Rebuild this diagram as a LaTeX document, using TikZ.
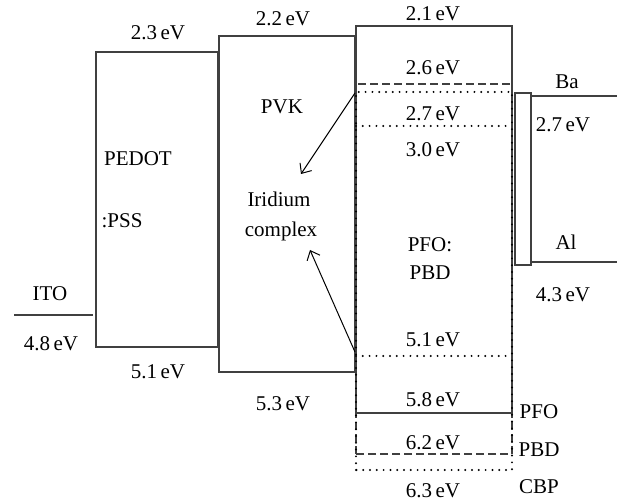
\documentclass[tikz,border=0pt]{standalone}
\usepackage{fontspec}
\setmainfont{Liberation Serif}
\usetikzlibrary{positioning, arrows.meta}
\tikzset{
  lbl/.style={font=\fontsize{10.5}{12}\selectfont, inner sep=1pt},
  band/.style={draw=black!75, line width=0.65pt},
  lumo/.style={band, dash pattern=on 4pt off 2pt},
  dots/.style={draw=black, line width=1.1pt, line cap=round, dash pattern=on 0pt off 3.4pt},
  transfer/.style={-{Straight Barb[length=4pt,width=7pt]}, line width=0.5pt}}

\begin{document}
\begin{tikzpicture}[x=0.5pt,y=-0.5pt]
\useasboundingbox (0,0) rectangle (617,502);
	% ITO
	\coordinate (ito1) at (14,315);
	\coordinate (ito2) at (93,315);
	\draw [band] (ito1) -- (ito2);
	\node [lbl] (ito) at (50,294) {ITO};
	\node [lbl] (itoE) at (51,344) {4.8\,eV};
	% PEDOT:PSS
	\draw [band] (96,52) rectangle (218,347);
	\node [lbl] (pedot) at (138,159) {PEDOT};
	\node [lbl] (pss) at (122,221) {:PSS};
	\node [lbl] (pedotL) at (158,33) {2.3\,eV};
	\node [lbl] (pedotH) at (158,372) {5.1\,eV};
	% PVK
	\draw [band] (219,36) rectangle (355,372);
	\node [lbl] (pvk) at (282,107) {PVK};
	\node [lbl] (pvkL) at (283,19) {2.2\,eV};
	\node [lbl] (pvkH) at (283,404) {5.3\,eV};
	\node [lbl] (ir1) at (279,199) {Iridium};
	\node [lbl] (ir2) at (281,231) {complex};
	% PFO:PBD with CBP
	\draw [band] (356,26) rectangle (512,413);
	\draw [lumo] (356,454) -- (356,84) -- (512,84) -- (512,454) -- cycle;
	\draw [dots] (356,470) -- (356,92) -- (512,92) -- (512,470) -- cycle;
	\draw [dots] (356,126) -- (507,126);
	\draw [dots] (356,356) -- (512,356);
	\node [lbl] (pfoL) at (433,14) {2.1\,eV};
	\node [lbl] (pbdL) at (433,68) {2.6\,eV};
	\node [lbl] (cbpL) at (433,114) {2.7\,eV};
	\node [lbl] (irL) at (433,150) {3.0\,eV};
	\node [lbl] (pfo) at (430,245) {PFO:};
	\node [lbl] (pbd) at (430,273) {PBD};
	\node [lbl] (irH) at (433,340) {5.1\,eV};
	\node [lbl] (pfoH) at (433,400) {5.8\,eV};
	\node [lbl] (pbdH) at (433,443) {6.2\,eV};
	\node [lbl] (cbpH) at (433,491) {6.3\,eV};
	\node [lbl] (kpfo) at (539,412) {PFO};
	\node [lbl] (kpbd) at (539,450) {PBD};
	\node [lbl] (kcbp) at (539,487) {CBP};
	% energy transfer to the dopant
	\coordinate (t1) at (355,93);
	\coordinate (t2) at (301,174);
	\coordinate (b1) at (355,352);
	\coordinate (b2) at (310,250);
	\draw [transfer] (t1) -- (t2);
	\draw [transfer] (b1) -- (b2);
	% Ba/Al cathode
	\draw [band] (515,93) rectangle (531,265);
	\coordinate (ba1) at (531,96);
	\coordinate (ba2) at (617,96);
	\coordinate (al1) at (531,262);
	\coordinate (al2) at (617,262);
	\draw [band] (ba1) -- (ba2);
	\draw [band] (al1) -- (al2);
	\node [lbl] (ba) at (567,82) {Ba};
	\node [lbl] (baE) at (563,125) {2.7\,eV};
	\node [lbl] (al) at (566,242) {Al};
	\node [lbl] (alE) at (563,295) {4.3\,eV};
\end{tikzpicture}
\end{document}
